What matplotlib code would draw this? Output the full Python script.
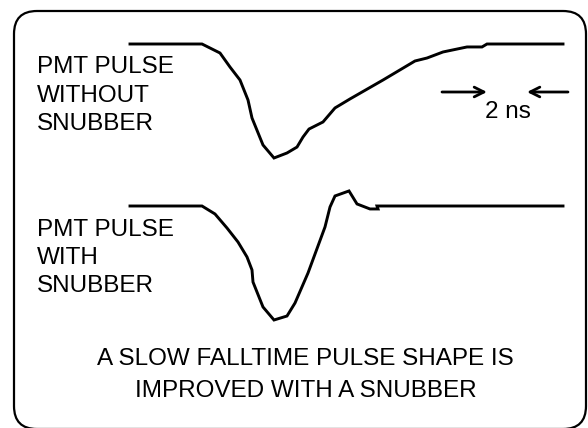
import matplotlib
matplotlib.use("Agg")
import matplotlib.pyplot as plt
from matplotlib.patches import FancyBboxPatch

# ---- data: pulse waveforms (time in ns, normalized amplitude) ----
t_without = [-1.25, 2.35, 3.25, 3.75, 4.25, 4.65, 4.85, 5.4, 5.95, 6.6, 7.1, 7.4, 7.7,
             8.4, 9.0, 9.75, 11.4, 13.0, 13.6, 14.4, 15.6, 16.35, 16.6, 20.4]
a_without = [0.0, 0.0, -0.079, -0.202, -0.316, -0.491, -0.649, -0.886, -1.0, -0.956,
             -0.904, -0.816, -0.746, -0.684, -0.561, -0.482, -0.316, -0.149, -0.123,
             -0.070, -0.026, -0.026, 0.0, 0.0]

t_with = [-1.25, 2.35, 3.0, 3.6, 4.15, 4.6, 4.85, 4.9, 5.4, 5.95, 6.6, 7.0, 7.65, 8.5,
          8.75, 9.0, 9.7, 10.1, 10.75, 11.15, 11.1, 20.4]
a_with = [0.0, 0.0, -0.070, -0.193, -0.316, -0.447, -0.561, -0.667, -0.886, -1.0, -0.965,
          -0.851, -0.588, -0.184, -0.009, 0.088, 0.132, 0.018, -0.026, -0.026, 0.0, 0.0]

scale_start_ns = 16.6
scale_len_ns = 2.0

label_without = ["PMT PULSE", "WITHOUT", "SNUBBER"]
label_with = ["PMT PULSE", "WITH", "SNUBBER"]
caption = ["A SLOW FALLTIME PULSE SHAPE IS", "IMPROVED WITH A SNUBBER"]
scale_label = "2 ns"

# ---- layout ----
W, H = 588, 428
FS = 17.5
plt.rcParams['font.family'] = ['Liberation Sans', 'DejaVu Sans']
fig = plt.figure(figsize=(W / 100, H / 100), dpi=100)

# frame axes in pixel coordinates (y measured upward from bottom)
fax = fig.add_axes([0, 0, 1, 1])
fax.set_xlim(0, W)
fax.set_ylim(0, H)
fax.axis('off')

R = 23
left, right, top, bottom = 14, 586, 11, 429
border = FancyBboxPatch((left + R, H - bottom + R), right - left - 2 * R,
                        bottom - top - 2 * R,
                        boxstyle="round,pad=%d" % R, fc='none', ec='black', lw=1.6,
                        clip_on=False)
fax.add_patch(border)

# data axes: 20 px per ns, 114 px per unit amplitude
px_per_ns = 20.0
px_per_amp = 114.0
x0_px = 155.0
base_top = 44.0
base_bot = 206.0
ax = fig.add_axes([0, 0, 1, 1])
ax.set_xlim(-x0_px / px_per_ns, (W - x0_px) / px_per_ns)
ax.set_ylim(-(H - base_top) / px_per_amp, base_top / px_per_amp)
ax.axis('off')
ax.patch.set_alpha(0)

offset_bot = -(base_bot - base_top) / px_per_amp
ax.plot(t_without, a_without, color='black', lw=2.1, solid_joinstyle='miter')
ax.plot(t_with, [a + offset_bot for a in a_with], color='black', lw=2.1,
        solid_joinstyle='miter')

# 2 ns scale arrows
y_arrow = -(92 - base_top) / px_per_amp
arrow_kw = dict(arrowstyle='->,head_length=0.7,head_width=0.35', color='black', lw=2.0,
                shrinkA=0, shrinkB=0)
ax.annotate('', xy=(scale_start_ns, y_arrow), xytext=(scale_start_ns - 2.25, y_arrow),
            arrowprops=arrow_kw)
ax.annotate('', xy=(scale_start_ns + scale_len_ns, y_arrow),
            xytext=(scale_start_ns + scale_len_ns + 2.05, y_arrow), arrowprops=arrow_kw)
ax.text(scale_start_ns + scale_len_ns / 2 + 0.05, -(118 - base_top) / px_per_amp,
        scale_label, ha='center', va='baseline', fontsize=FS)

# labels (baselines given in pixels from top)
for yb, s in zip([73, 102, 130], label_without):
    fax.text(37, H - yb, s, ha='left', va='baseline', fontsize=FS)
for yb, s in zip([236, 264, 292], label_with):
    fax.text(37, H - yb, s, ha='left', va='baseline', fontsize=FS)
for yb, s in zip([365, 397], caption):
    fax.text(305.5, H - yb, s, ha='center', va='baseline', fontsize=FS)

fig.savefig('out.png', dpi=100, facecolor='white')
